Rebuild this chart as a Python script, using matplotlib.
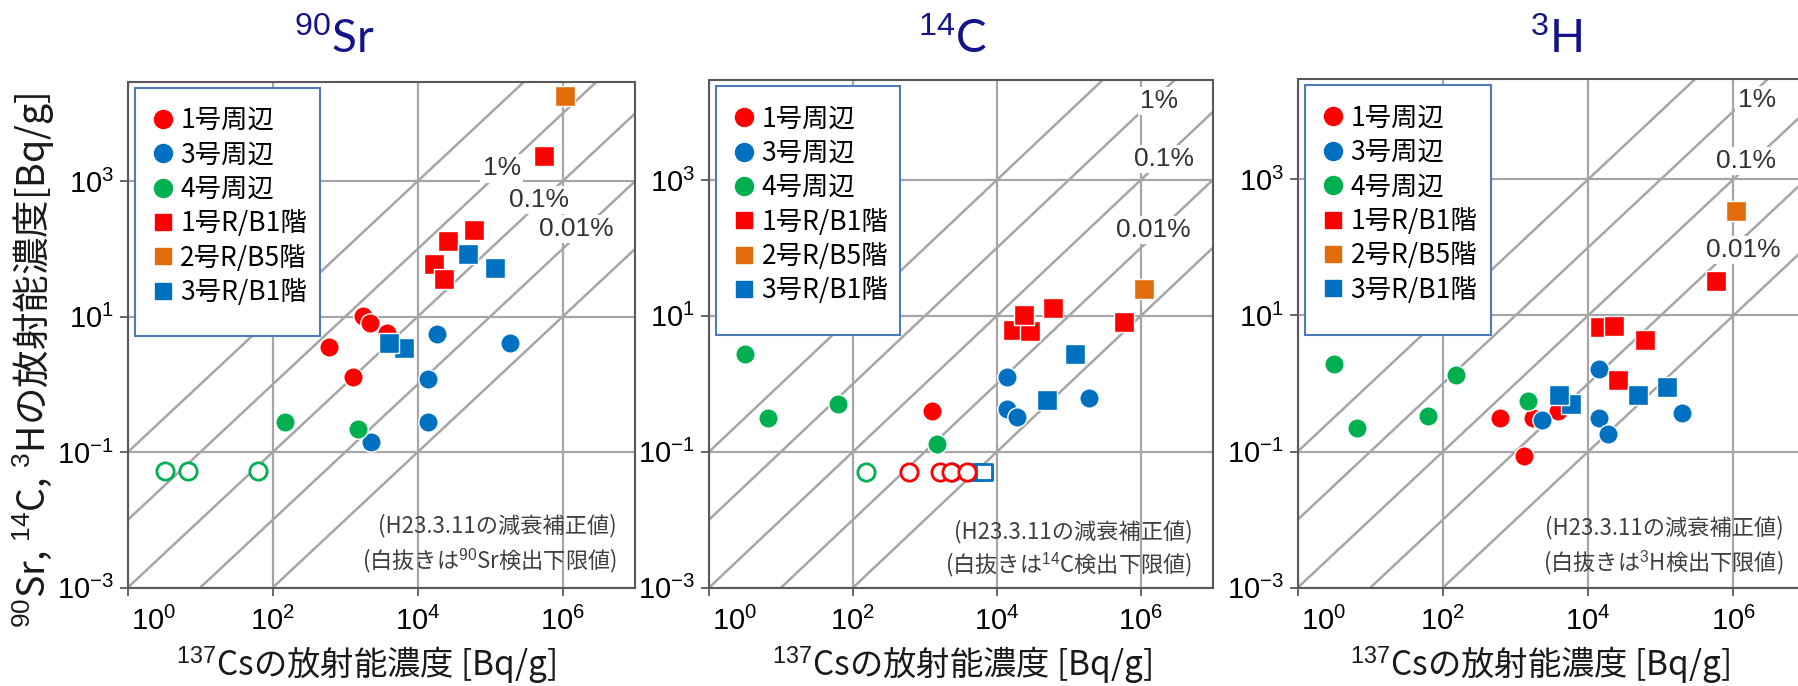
import matplotlib
matplotlib.use('Agg')
import matplotlib.pyplot as plt
from matplotlib.lines import Line2D
from matplotlib.patches import Rectangle
from matplotlib.transforms import ScaledTranslation
import numpy as np

plt.rcParams['font.family'] = ['Noto Sans CJK JP', 'DejaVu Sans']
plt.rcParams['mathtext.fontset'] = 'custom'
plt.rcParams['mathtext.rm'] = 'Liberation Sans'
plt.rcParams['mathtext.it'] = 'Liberation Sans'
plt.rcParams['mathtext.bf'] = 'Liberation Sans'

# ---- データ (137Cs [Bq/g], 核種 [Bq/g]) ----
# 90Sr
sr_c1_x = [600, 1300, 1750, 2200, 3800]
sr_c1_y = [3.6, 1.3, 10.2, 8.2, 5.8]
sr_c3_x = [1.86e4, 1.9e5, 1.38e4, 1.38e4, 2300]
sr_c3_y = [5.5, 4.1, 1.22, 0.275, 0.14]
sr_c4_x = [150, 1500]
sr_c4_y = [0.28, 0.22]
sr_o4_x = [3.3, 6.7, 62]
sr_o4_y = [0.052, 0.052, 0.052]
sr_s1_x = [5.5e5, 6.0e4, 2.6e4, 1.67e4, 2.28e4]
sr_s1_y = [2400, 193, 130, 61, 35.5]
sr_s2_x = [1.09e6]
sr_s2_y = [1.8e4]
sr_s3_x = [4.9e4, 1.17e5, 6400, 4000]
sr_s3_y = [83, 52, 3.5, 4.1]

# 14C
c_c1_x = [1260]
c_c1_y = [0.40]
c_c3_x = [1.38e4, 1.38e4, 1.9e4, 1.92e5]
c_c3_y = [1.26, 0.43, 0.32, 0.62]
c_c4_x = [3.2, 6.6, 62, 1480]
c_c4_y = [2.7, 0.31, 0.50, 0.13]
c_o4_x = [150]
c_o4_y = [0.05]
c_o1_x = [607, 1640, 2300, 3900]
c_o1_y = [0.05, 0.05, 0.05, 0.05]
c_o3_x = [2400]
c_o3_y = [0.05]
c_q3_x = [4800, 6600]
c_q3_y = [0.05, 0.05]
c_s1_x = [1.68e4, 2.9e4, 2.35e4, 6.1e4, 5.9e5]
c_s1_y = [6.1, 5.9, 10.3, 12.9, 8.0]
c_s2_x = [1.1e6]
c_s2_y = [25]
c_s3_x = [1.2e5, 4.9e4]
c_s3_y = [2.7, 0.575]

# 3H
h_c1_x = [617, 1320, 1730, 3800]
h_c1_y = [0.31, 0.086, 0.31, 0.40]
h_c3_x = [2300, 1.4e4, 1.4e4, 1.9e4, 1.95e5]
h_c3_y = [0.29, 1.63, 0.31, 0.18, 0.37]
h_c4_x = [3.2, 6.5, 63, 149, 1490]
h_c4_y = [1.95, 0.22, 0.33, 1.35, 0.56]
h_s1_x = [1.44e4, 2.28e4, 6.0e4, 2.57e4, 5.7e5]
h_s1_y = [6.8, 7.1, 4.4, 1.13, 32]
h_s2_x = [1.1e6]
h_s2_y = [340]
h_s3_x = [5800, 4000, 4.8e4, 1.2e5]
h_s3_y = [0.50, 0.67, 0.67, 0.9]

legend_labels = ['1号周辺', '3号周辺', '4号周辺', '1号R/B1階', '2号R/B5階', '3号R/B1階']
ratios = [1e-5, 1e-4, 1e-3, 1e-2, 1e-1]
ratio_labels = ['1%', '0.1%', '0.01%']
xticks = [1, 1e2, 1e4, 1e6]
xticklabels = ['10$^{0}$', '10$^{2}$', '10$^{4}$', '10$^{6}$']
yticks = [1e-3, 1e-1, 1e1, 1e3]
yticklabels = ['10$^{-3}$', '10$^{-1}$', '10$^{1}$', '10$^{3}$']

RED = '#FF0000'
BLUE = '#0070C0'
GREEN = '#00B050'
ORANGE = '#E36C0A'
GRID = '#A6A6A6'
NAVY = '#14148A'

W, H = 1799, 686
fig = plt.figure(figsize=(W / 100, H / 100), dpi=100)


def add_panel(l, t, r, b):
    return fig.add_axes([l / W, 1 - b / H, (r - l) / W, (b - t) / H])


def draw_panel(ax, series, opens, label_pos, note2, note_xy):
    ax.set_xscale('log')
    ax.set_yscale('log')
    ax.set_xlim(1, 1e7)
    ax.set_ylim(1e-3, 10 ** 4.47)
    ax.set_xticks(xticks)
    ax.set_xticklabels(xticklabels)
    ax.set_yticks(yticks)
    ax.set_yticklabels(yticklabels)
    ax.minorticks_off()
    ax.grid(True, color=GRID, lw=1.6)
    ax.set_axisbelow(True)
    ax.tick_params(direction='out', length=6, width=1.3, color='#595959',
                   labelsize=21, pad=4, labelfontfamily='Liberation Sans')
    ax.tick_params(axis='x', pad=8)
    for s in ax.spines.values():
        s.set_color('#595959')
        s.set_linewidth(1.5)
    # 最初のx目盛ラベルを右へずらす
    lbl = ax.get_xticklabels()[0]
    lbl.set_transform(lbl.get_transform() + ScaledTranslation(0.26, 0, fig.dpi_scale_trans))

    # 比率の斜線
    xs = np.array([1e-2, 1e9])
    for r in ratios:
        ax.plot(xs, r * xs, color=GRID, lw=1.8, zorder=1)
    for txt, (lx, ly) in zip(ratio_labels, label_pos):
        ax.text(10 ** lx, 10 ** ly, txt, ha='center', va='center', fontsize=19,
                family='Liberation Sans', color='#333333', zorder=2,
                bbox=dict(fc='white', ec='none', pad=1.5))

    # データ点
    colors = [RED, BLUE, GREEN, RED, ORANGE, BLUE]
    markers = ['o', 'o', 'o', 's', 's', 's']
    for (x, y), c, m in zip(series, colors, markers):
        ax.scatter(x, y, s=195 if m == 'o' else 200, marker=m, color=c,
                   edgecolors='white', linewidths=1.0, zorder=4)
    for x, y, c, m in opens:
        ax.scatter(x, y, s=155 if m == 'o' else 145, marker=m, facecolors='white',
                   edgecolors=c, linewidths=2.0, zorder=4)

    # 凡例
    ax.add_patch(Rectangle((0.0144, 0.497), 0.365, 0.491, transform=ax.transAxes,
                           fc='white', ec='#4F7CB8', lw=1.5, zorder=5))
    handles = [Line2D([], [], ls='none', marker=m, color=c, markersize=13 if m == 'o' else 12)
               for c, m in zip(colors, markers)]
    ax.legend(handles, legend_labels, loc='upper left', bbox_to_anchor=(0.052, 0.95),
              frameon=False, fontsize=19, handlelength=0.7, handletextpad=0.3,
              labelspacing=0.28, borderaxespad=0, borderpad=0)

    # 注記
    nx, ny1, ny2 = note_xy
    ax.text(nx, ny1, '(H23.3.11の減衰補正値)', transform=ax.transAxes, ha='right',
            va='center', fontsize=16, color='#404040', zorder=3)
    ax.text(nx, ny2, note2, transform=ax.transAxes, ha='right',
            va='center', fontsize=16, color='#404040', zorder=3)


ax1 = add_panel(127.7, 81.7, 635, 587.7)
ax2 = add_panel(709, 80, 1212.8, 587.7)
ax3 = add_panel(1297.7, 79.3, 1806, 587.7)

draw_panel(ax1,
           [(sr_c1_x, sr_c1_y), (sr_c3_x, sr_c3_y), (sr_c4_x, sr_c4_y),
            (sr_s1_x, sr_s1_y), (sr_s2_x, sr_s2_y), (sr_s3_x, sr_s3_y)],
           [(sr_o4_x, sr_o4_y, GREEN, 'o')],
           [(5.16, 3.19), (5.68, 2.72), (6.19, 2.29)],
           '(白抜きは$^{90}$Sr検出下限値)', (0.964, 0.122, 0.053))
draw_panel(ax2,
           [(c_c1_x, c_c1_y), (c_c3_x, c_c3_y), (c_c4_x, c_c4_y),
            (c_s1_x, c_s1_y), (c_s2_x, c_s2_y), (c_s3_x, c_s3_y)],
           [(c_o4_x, c_o4_y, GREEN, 'o'), (c_q3_x, c_q3_y, BLUE, 's'),
            (c_o3_x, c_o3_y, BLUE, 'o'), (c_o1_x, c_o1_y, RED, 'o')],
           [(6.25, 4.16), (6.32, 3.31), (6.17, 2.26)],
           '(白抜きは$^{14}$C検出下限値)', (0.960, 0.110, 0.046))
draw_panel(ax3,
           [(h_c1_x, h_c1_y), (h_c3_x, h_c3_y), (h_c4_x, h_c4_y),
            (h_s1_x, h_s1_y), (h_s2_x, h_s2_y), (h_s3_x, h_s3_y)],
           [],
           [(6.32, 4.16), (6.18, 3.27), (6.13, 1.96)],
           '(白抜きは$^{3}$H検出下限値)', (0.955, 0.119, 0.050))

# タイトル
for cx, txt in [(334, '$^{90}$Sr'), (953, '$^{14}$C'), (1556, '$^{3}$H')]:
    fig.text(cx / W, 1 - 53 / H, txt, ha='center', va='baseline', fontsize=33,
             family='Lato', color=NAVY)

# 軸ラベル
for cx in [366, 962, 1540]:
    fig.text(cx / W, 1 - 666 / H, '$^{137}$Csの放射能濃度 [Bq/g]', ha='center', va='center',
             fontsize=24, color='#1a1a1a')
fig.text(34 / W, 1 - 360 / H, '$^{90}$Sr, $^{14}$C, $^{3}$Hの放射能濃度[Bq/g]', rotation=90,
         ha='center', va='center', fontsize=27, color='#1a1a1a')

fig.savefig('out.png', dpi=100)
